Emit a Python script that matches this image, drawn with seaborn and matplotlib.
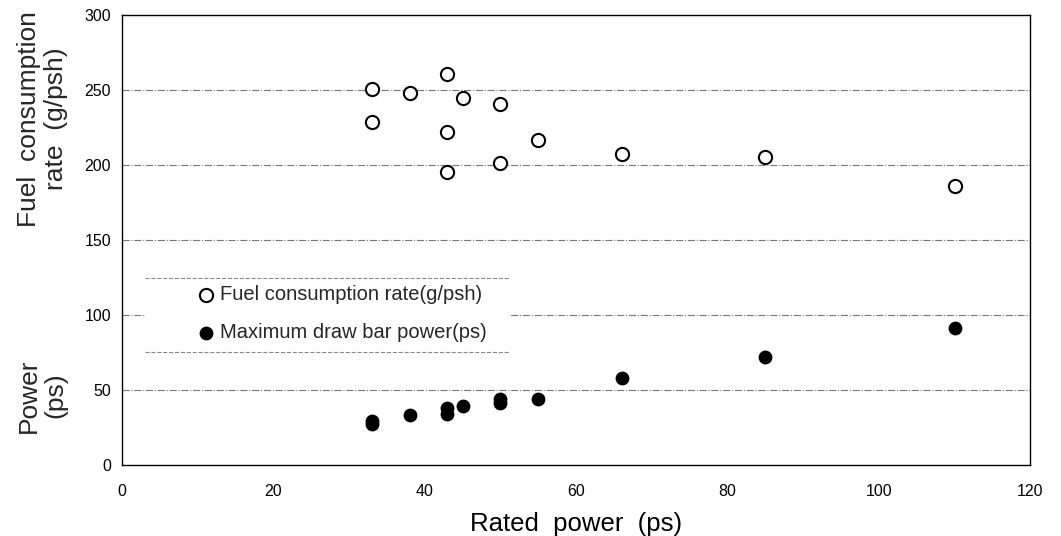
import matplotlib
matplotlib.use("Agg")
import matplotlib.pyplot as plt
import matplotlib.patches as mpatches
import seaborn as sns
import pandas as pd

# Data
fuel_x = [33, 33, 38, 43, 43, 43, 45, 50, 50, 55, 66, 85, 110]
fuel_y = [251, 229, 248, 261, 222, 195, 245, 241, 201, 217, 207, 205, 186]
power_x = [33, 33, 38, 43, 43, 45, 50, 50, 55, 66, 85, 110]
power_y = [27, 29, 33, 34, 38, 39, 41, 44, 44, 58, 72, 91]
x_ticks = [0, 20, 40, 60, 80, 100, 120]
y_ticks = [0, 50, 100, 150, 200, 250, 300]

sns.set_theme(style="white")
plt.rcParams['font.family'] = ['Liberation Sans', 'DejaVu Sans']

fuel_df = pd.DataFrame({"x": fuel_x, "y": fuel_y})
power_df = pd.DataFrame({"x": power_x, "y": power_y})

fig = plt.figure(figsize=(10.61, 5.36), dpi=100)
ax = fig.add_axes([0.115, 0.1325, 0.856, 0.8395])

sns.scatterplot(data=fuel_df, x="x", y="y", ax=ax, marker="o", s=90,
                facecolor="white", edgecolor="black", linewidth=1.5,
                label="Fuel consumption rate(g/psh)", zorder=3)
sns.scatterplot(data=power_df, x="x", y="y", ax=ax, marker="o", s=80,
                color="black", edgecolor="black", linewidth=1,
                label="Maximum draw bar power(ps)", zorder=3)

ax.set_xlim(0, 120)
ax.set_ylim(0, 300)
ax.set_xticks(x_ticks)
ax.set_yticks(y_ticks)
for yv in y_ticks[1:-1]:
    ax.axhline(yv, color="#777777", lw=0.8, ls="-.", zorder=1)

for sp in ax.spines.values():
    sp.set_color("black")
    sp.set_linewidth(1.0)
ax.tick_params(axis="both", which="major", direction="out", length=4,
               width=0.8, color="black", labelsize=11.5, labelcolor="black")
ax.tick_params(axis="x", pad=10)
ax.tick_params(axis="y", pad=4)

ax.set_xlabel("Rated  power  (ps)", fontsize=18.5, labelpad=9, color="black")
ax.set_ylabel("")

fig.text(0.040, 0.778, "Fuel  consumption\nrate  (g/psh)", rotation=90,
         ha="center", va="center", fontsize=19, multialignment="center",
         linespacing=1.15)
fig.text(0.040, 0.262, "Power\n(ps)", rotation=90, ha="center", va="center",
         fontsize=19, multialignment="center", linespacing=1.15)

# legend box: white background hiding the grid, dashed top and bottom rules
ax.add_patch(mpatches.Rectangle((0.0253, 0.251), 0.402, 0.1646,
                                transform=ax.transAxes, facecolor="white",
                                edgecolor="none", zorder=1.5))
for yy in (0.4156, 0.251):
    ax.plot([0.0253, 0.4273], [yy, yy], transform=ax.transAxes,
            color="#888888", lw=0.8, ls="--", zorder=2)

leg = ax.legend(loc="upper left", bbox_to_anchor=(0.0815, 0.400), fontsize=14.5,
                frameon=False, handletextpad=0.2,
                borderpad=0, labelspacing=0.95, handlelength=1.0,
                borderaxespad=0)

fig.savefig("out.png", dpi=100)
